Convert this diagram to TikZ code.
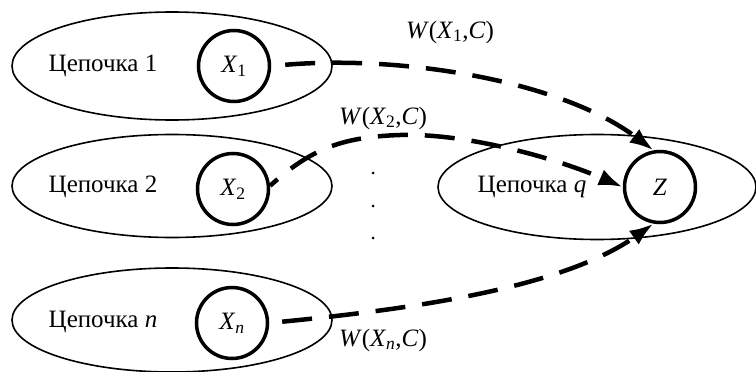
\documentclass[tikz,border=0pt]{standalone}
\usepackage{fontspec}
\setmainfont{Liberation Serif}
\usetikzlibrary{arrows.meta,shapes.geometric}
\newcommand\vx[1]{\textit{X}\textsubscript{#1}}
\newcommand\wlab[1]{\textit{W}(\vx{#1},\textit{C})}
\begin{document}
\begin{tikzpicture}[x=1pt,y=-1pt,
  every node/.style={font=\fontsize{25}{30}\selectfont},
  chain/.style={ellipse, draw, line width=1.6pt, inner sep=0pt},
  var/.style={circle, draw, line width=3.5pt, minimum size=71pt, inner sep=0pt},
  link/.style={line width=4.5pt, dash pattern=on 30pt off 17pt, -{Latex[length=24pt,width=17pt]}},
  dot/.style={circle, fill, inner sep=0pt, minimum size=3pt}]
\useasboundingbox (0,0) rectangle (756,372);
% chains
\node[chain, minimum width=320pt, minimum height=108pt] (e1) at (172,66) {};
\node[chain, minimum width=320pt, minimum height=103pt] (e2) at (172,186) {};
\node[chain, minimum width=320pt, minimum height=104pt] (en) at (172,320) {};
\node[chain, minimum width=318pt, minimum height=105pt] (eq) at (597,187) {};
% chain names
\node (t1) at (103,66) {Цепочка 1};
\node (t2) at (103,187) {Цепочка 2};
\node (tn) at (103,322) {Цепочка \textit{n}};
\node (tq) at (532,187) {Цепочка \textit{q}};
% variables
\node[var] (x1) at (234,66) {\vx{1}};
\node[var] (x2) at (233,189) {\vx{2}};
\node[var] (xn) at (232,323) {\vx{\textit{n}}};
\node[var] (z) at (660,187) {\textit{Z}};
% dots
\node[dot] (d1) at (373,173) {};
\node[dot] (d2) at (373,206) {};
\node[dot] (d3) at (373,238) {};
% links
\draw[link, shorten <=14pt] (x1.east) .. controls (400,55) and (560,80) .. (z.100);
\draw[link, dash phase=20pt] (x2.5) .. controls (310,150) and (340,137) .. (400,135)
   .. controls (470,133) and (560,160) .. (z.west);
\draw[link, shorten <=13pt] (xn.east) .. controls (400,310) and (560,290) .. (z.260);
% labels
\node (w1) at (450,32) {\wlab{1}};
\node (w2) at (383,118) {\wlab{2}};
\node (wn) at (383,340) {\wlab{\textit{n}}};
\end{tikzpicture}
\end{document}
